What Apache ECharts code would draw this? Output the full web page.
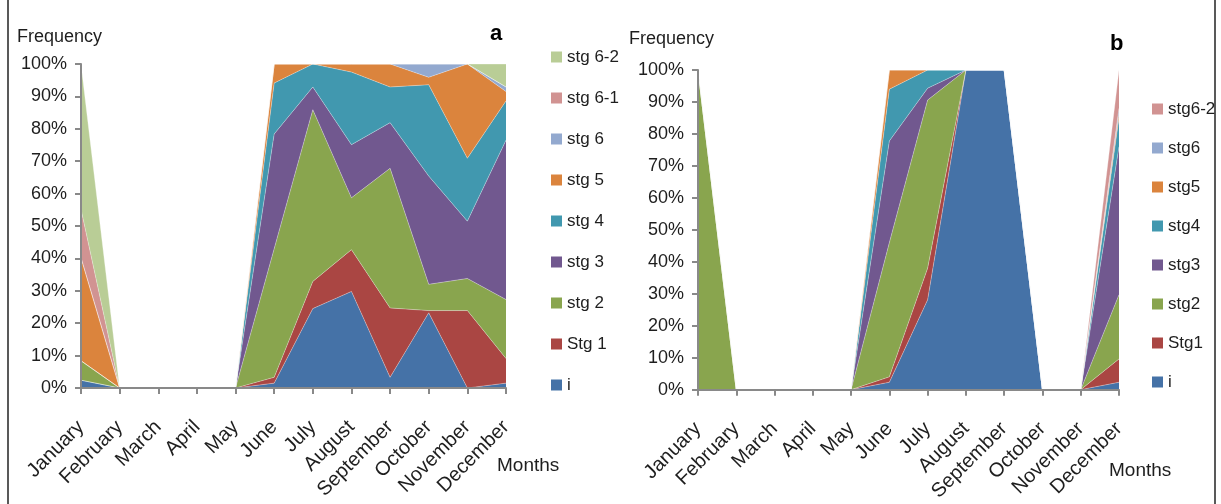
<!DOCTYPE html>
<html><head><meta charset="utf-8">
<script src="https://cdn.jsdelivr.net/npm/echarts@6/dist/echarts.min.js"></script>
<style>html,body{margin:0;padding:0;background:#fff}#c{width:1221px;height:504px}</style>
</head><body><div id="c"></div>
<script>
// ---------- data ----------
const months = ['January','February','March','April','May','June','July','August','September','October','November','December'];

// Panel a (percent of each month, bottom to top)
const aNames  = ['i','Stg 1','stg 2','stg 3','stg 4','stg 5','stg 6','stg 6-1','stg 6-2'];
const a_i     = [2.4, 0, 0, 0, 0, 1.5, 24.5, 29.8, 3.3, 23.2, 0, 1.5];
const a_stg1  = [0, 0, 0, 0, 0, 1.8, 8.4, 12.9, 21.4, 0.7, 23.9, 7.6];
const a_stg2  = [6, 0, 0, 0, 0, 39.7, 53, 16, 43.1, 8.1, 9.9, 18.2];
const a_stg3  = [0, 0, 0, 0, 0, 35.4, 7, 16.4, 14.1, 33.4, 17.7, 49.2];
const a_stg4  = [0, 0, 0, 0, 0, 15.7, 7.1, 22.4, 11, 28.2, 19.4, 12.1];
const a_stg5  = [31.8, 0, 0, 0, 0, 5.9, 0, 2.5, 7.1, 2.3, 29.1, 2.9];
const a_stg6  = [0, 0, 0, 0, 0, 0, 0, 0, 0, 4.1, 0, 1.4];
const a_stg61 = [15, 0, 0, 0, 0, 0, 0, 0, 0, 0, 0, 0];
const a_stg62 = [44.8, 0, 0, 0, 0, 0, 0, 0, 0, 0, 0, 7.1];

// Panel b
const bNames  = ['i','Stg1','stg2','stg3','stg4','stg5','stg6','stg6-2'];
const b_i     = [0, 0, 0, 0, 0, 2.3, 28.1, 100, 100, 0, 0, 2.3];
const b_stg1  = [0, 0, 0, 0, 0, 1.7, 9.9, 0, 0, 0, 0, 7.3];
const b_stg2  = [100, 0, 0, 0, 0, 42, 52.6, 0, 0, 0, 0, 20.1];
const b_stg3  = [0, 0, 0, 0, 0, 31.8, 3.7, 0, 0, 0, 0, 46.3];
const b_stg4  = [0, 0, 0, 0, 0, 16.2, 5.7, 0, 0, 0, 0, 9];
const b_stg5  = [0, 0, 0, 0, 0, 6, 0, 0, 0, 0, 0, 1.5];
const b_stg6  = [0, 0, 0, 0, 0, 0, 0, 0, 0, 0, 0, 1.5];
const b_stg62 = [0, 0, 0, 0, 0, 0, 0, 0, 0, 0, 0, 12];

// ---------- styles ----------
const aColors = ['#4572A7','#AA4643','#89A54E','#71588F','#4198AF','#DB843D','#93A9CF','#D19392','#B9CD96'];
const bColors = ['#4572A7','#AA4643','#89A54E','#71588F','#4198AF','#DB843D','#93A9CF','#D19392'];
const FONT = '"Liberation Sans",Arial,sans-serif';
const TXT = '#1e1e1e';
const AX = '#898989';

function mkSeries(names, data, colors, idx, stack) {
  return names.map((n, k) => ({
    name: n, type: 'line', stack: stack, xAxisIndex: idx, yAxisIndex: idx,
    data: data[k], showSymbol: false, symbol: 'none', smooth: false,
    lineStyle: { width: 0.6, color: 'rgba(255,255,255,0.55)' },
    areaStyle: { color: colors[k], opacity: 1 },
    itemStyle: { color: colors[k] },
    emphasis: { disabled: true }, animation: false
  }));
}
function mkX(idx) {
  return {
    type: 'category', gridIndex: idx, data: months, boundaryGap: false, z: 5,
    axisLine: { lineStyle: { color: AX, width: 2 } },
    axisTick: { show: true, length: 6, lineStyle: { color: AX, width: 2 }, alignWithLabel: true },
    axisLabel: { interval: 0, rotate: 45, margin: 36, color: TXT, fontFamily: FONT, fontSize: 20 },
    splitLine: { show: false }
  };
}
function mkY(idx) {
  return {
    type: 'value', gridIndex: idx, min: 0, max: 100, interval: 10, z: 5,
    axisLine: { show: true, lineStyle: { color: AX, width: 2 } },
    axisTick: { show: true, length: 6, lineStyle: { color: AX, width: 2 } },
    axisLabel: { formatter: '{value}%', color: TXT, fontFamily: FONT, fontSize: 18, margin: 14 },
    splitLine: { show: false }
  };
}
function mkLegend(names, left, top, gap) {
  return {
    orient: 'vertical', left: left, top: top, itemGap: gap,
    icon: 'rect', itemWidth: 11, itemHeight: 11, selectedMode: false,
    data: names.slice().reverse(),
    textStyle: { color: TXT, fontFamily: FONT, fontSize: 17, lineHeight: 22 }
  };
}

const chart = echarts.init(document.getElementById('c'), null, { renderer: 'canvas' });
chart.setOption({
  animation: false,
  backgroundColor: '#ffffff',
  grid: [
    { left: 81, top: 64, width: 425, height: 324 },
    { left: 698, top: 70, width: 421, height: 320 }
  ],
  xAxis: [mkX(0), mkX(1)],
  yAxis: [mkY(0), mkY(1)],
  legend: [mkLegend(aNames, 546, 41, 19), mkLegend(bNames, 1147, 93, 17)],
  series: [].concat(
    mkSeries(aNames, [a_i, a_stg1, a_stg2, a_stg3, a_stg4, a_stg5, a_stg6, a_stg61, a_stg62], aColors, 0, 'a'),
    mkSeries(bNames, [b_i, b_stg1, b_stg2, b_stg3, b_stg4, b_stg5, b_stg6, b_stg62], bColors, 1, 'b')
  ),
  graphic: [
    { type: 'text', x: 17, y: 37, style: { text: 'Frequency', fill: TXT, font: '18px ' + FONT, textVerticalAlign: 'middle' } },
    { type: 'text', x: 629, y: 39, style: { text: 'Frequency', fill: TXT, font: '18px ' + FONT, textVerticalAlign: 'middle' } },
    { type: 'text', x: 497, y: 466, style: { text: 'Months', fill: TXT, font: '19px ' + FONT, textVerticalAlign: 'middle' } },
    { type: 'text', x: 1109, y: 471, style: { text: 'Months', fill: TXT, font: '19px ' + FONT, textVerticalAlign: 'middle' } },
    { type: 'text', x: 490, y: 34, style: { text: 'a', fill: '#000', font: 'bold 22px ' + FONT, textVerticalAlign: 'middle' } },
    { type: 'text', x: 1110, y: 44, style: { text: 'b', fill: '#000', font: 'bold 22px ' + FONT, textVerticalAlign: 'middle' } },
    { type: 'line', shape: { x1: 8, y1: 0, x2: 8, y2: 504 }, style: { stroke: '#222', lineWidth: 1.5 } },
    { type: 'line', shape: { x1: 1215, y1: 0, x2: 1215, y2: 504 }, style: { stroke: '#222', lineWidth: 1.5 } }
  ]
});
</script></body></html>
